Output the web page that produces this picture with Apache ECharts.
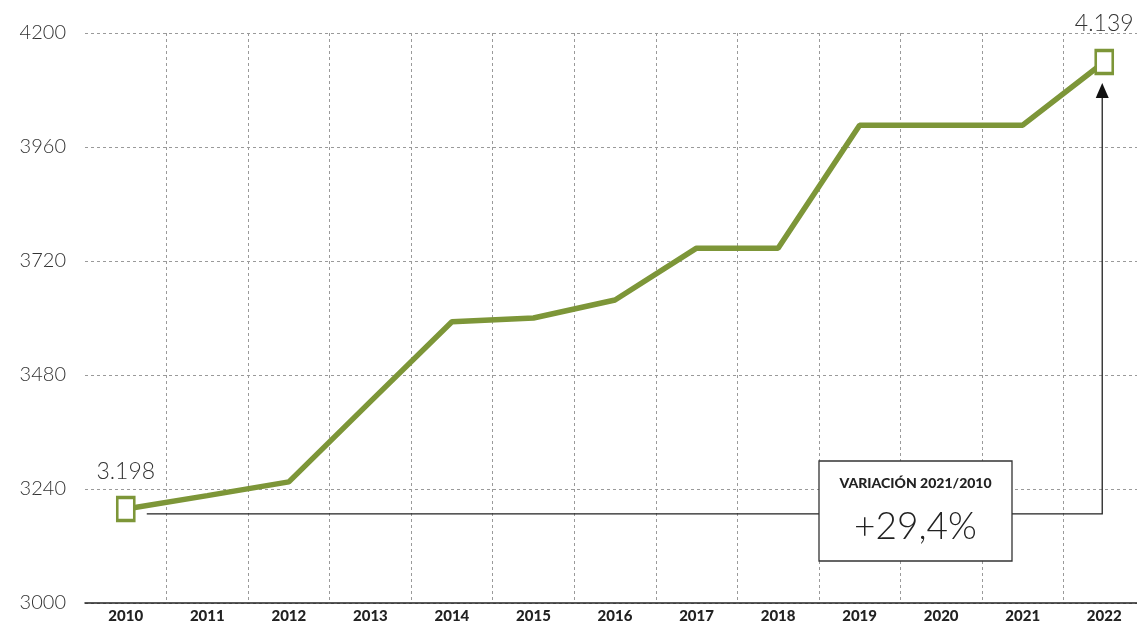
<!DOCTYPE html>
<html>
<head>
<meta charset="utf-8">
<script src="https://cdn.jsdelivr.net/npm/echarts@6/dist/echarts.min.js"></script>
<style>
html,body{margin:0;padding:0;background:#fff;}
#chart{width:1137px;height:625px;}
</style>
</head>
<body>
<div id="chart"></div>
<script>
const years = ['2010','2011','2012','2013','2014','2015','2016','2017','2018','2019','2020','2021','2022'];
const values = [3198, 3226, 3255, 3424, 3592, 3600, 3638, 3747, 3747, 4006, 4006, 4006, 4139];
const yMin = 3000, yMax = 4200, yStep = 240;
const startLabel = '3.198';
const endLabel = '4.139';
const boxTitle = 'VARIACIÓN 2021/2010';
const boxValue = '+29,4%';

const GREEN = '#7d9638';
const FONT = 'Lato, "Open Sans", sans-serif';

const chart = echarts.init(document.getElementById('chart'), null, {renderer: 'canvas'});

const seriesData = values.map((v, i) => {
  const last = i === values.length - 1;
  if (i === 0 || last) {
    return {
      value: v,
      symbol: 'rect',
      symbolSize: [17, 23],
      itemStyle: {color: '#fff', borderColor: GREEN, borderWidth: 3},
      label: {
        show: true,
        position: 'top',
        distance: last ? 14 : 13,
        formatter: i === 0 ? startLabel : endLabel,
        fontFamily: FONT,
        fontWeight: 300,
        fontSize: 23,
        color: '#333'
      }
    };
  }
  return {value: v, symbol: 'none'};
});

chart.setOption({
  animation: false,
  backgroundColor: '#fff',
  grid: {left: 85, width: 1060, top: 33, bottom: 22, containLabel: false, outerBoundsMode: 'none'},
  xAxis: {
    type: 'category',
    data: years,
    boundaryGap: true,
    axisLine: {show: true, lineStyle: {color: '#222', width: 1.5}},
    axisTick: {show: false},
    axisLabel: {color: '#222', fontFamily: FONT, fontWeight: 900, fontSize: 15, margin: 6},
    splitLine: {
      show: true,
      interval: function (index) { return index !== 0; },
      lineStyle: {color: '#9a9a9a', type: [3, 3], width: 1}
    }
  },
  yAxis: {
    type: 'value',
    min: yMin, max: yMax, interval: yStep,
    axisLine: {show: false},
    axisTick: {show: false},
    axisLabel: {color: '#333', fontFamily: FONT, fontWeight: 300, fontSize: 20, margin: 19,
      formatter: function (v) { return String(v); }},
    splitLine: {show: true, lineStyle: {color: '#9a9a9a', type: [3, 3], width: 1}}
  },
  series: [{
    type: 'line',
    data: seriesData,
    symbol: 'none',
    showAllSymbol: true,
    lineStyle: {color: GREEN, width: 5.5},
    itemStyle: {color: GREEN},
    z: 5
  }]
});

function drawAnnotation() {
  const p0 = chart.convertToPixel({seriesIndex: 0}, [0, values[0]]);
  const p1 = chart.convertToPixel({seriesIndex: 0}, [values.length - 1, values[values.length - 1]]);
  const yc = p0[1] + 5;
  const xr = p1[0] - 2;
  const boxX = 819, boxY = 461, boxW = 193, boxH = 100;
  chart.setOption({
    graphic: [
      {type: 'polyline', z: 1, silent: true,
        shape: {points: [[p0[0] + 21, yc], [xr, yc], [xr, p1[1] + 34]]},
        style: {stroke: '#222', lineWidth: 1.3, fill: null}},
      {type: 'polygon', z: 1, silent: true,
        shape: {points: [[xr, p1[1] + 21], [xr - 6.5, p1[1] + 36], [xr + 6.5, p1[1] + 36]]},
        style: {fill: '#111'}},
      {type: 'rect', z: 10, silent: true,
        shape: {x: boxX, y: boxY, width: boxW, height: boxH},
        style: {fill: '#fff', stroke: '#333', lineWidth: 1.3}},
      {type: 'text', z: 11, silent: true, x: boxX + boxW / 2, y: 483,
        style: {text: boxTitle, fill: '#222', font: '900 14px ' + FONT, align: 'center', verticalAlign: 'middle'}},
      {type: 'text', z: 11, silent: true, x: boxX + boxW / 2, y: 527,
        style: {text: boxValue, fill: '#222', font: '300 37px ' + FONT, align: 'center', verticalAlign: 'middle'}}
    ]
  });
}
drawAnnotation();
</script>
</body>
</html>
